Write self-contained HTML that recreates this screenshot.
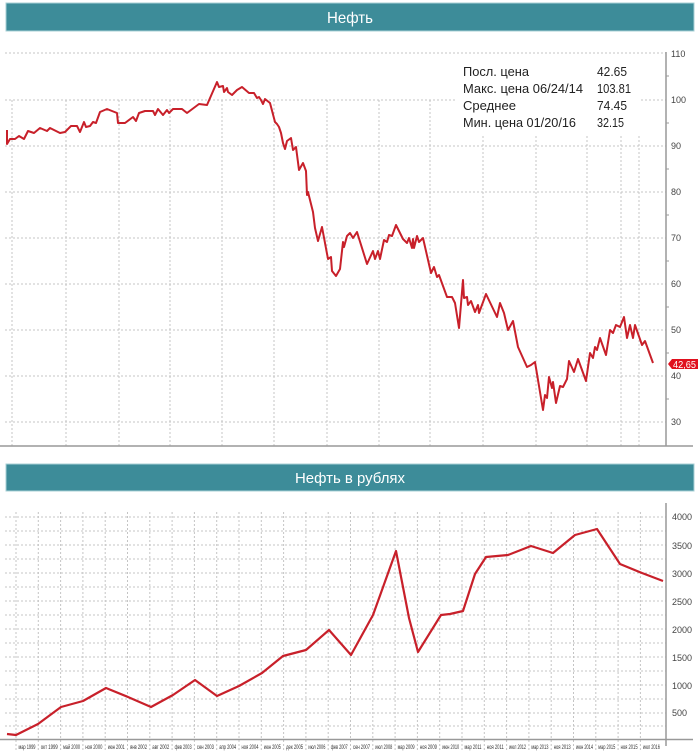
<!DOCTYPE html>
<html><head><meta charset="utf-8"><style>
html,body{margin:0;padding:0;background:#fff;}
svg{display:block;font-family:"Liberation Sans",sans-serif;}
</style></head><body>
<svg width="700" height="753" viewBox="0 0 700 753" xmlns="http://www.w3.org/2000/svg">
<rect x="6" y="3" width="688" height="28" fill="#3d8c99" stroke="#a9d0d6" stroke-width="1"/>
<text x="350" y="23" fill="#fff" font-size="16" text-anchor="middle" textLength="46" lengthAdjust="spacingAndGlyphs">Нефть</text>

<g stroke="#c4c4c4" stroke-width="1" stroke-dasharray="2,2" fill="none">
<line x1="5" y1="53" x2="666" y2="53"/>
<line x1="5" y1="100" x2="666" y2="100"/>
<line x1="5" y1="146" x2="666" y2="146"/>
<line x1="5" y1="192" x2="666" y2="192"/>
<line x1="5" y1="238" x2="666" y2="238"/>
<line x1="5" y1="284" x2="666" y2="284"/>
<line x1="5" y1="330" x2="666" y2="330"/>
<line x1="5" y1="376" x2="666" y2="376"/>
<line x1="5" y1="422" x2="666" y2="422"/>
<line x1="12" y1="100" x2="12" y2="446"/><line x1="66" y1="100" x2="66" y2="446"/>
<line x1="119" y1="100" x2="119" y2="446"/><line x1="170" y1="100" x2="170" y2="446"/>
<line x1="222" y1="100" x2="222" y2="446"/><line x1="274" y1="100" x2="274" y2="446"/>
<line x1="327" y1="100" x2="327" y2="446"/><line x1="379" y1="100" x2="379" y2="446"/>
<line x1="430" y1="100" x2="430" y2="446"/><line x1="483" y1="100" x2="483" y2="446"/>
<line x1="536" y1="100" x2="536" y2="446"/><line x1="587" y1="100" x2="587" y2="446"/>
<line x1="621" y1="100" x2="621" y2="446"/><line x1="639" y1="100" x2="639" y2="446"/>
</g>
<rect x="455" y="58" width="185" height="78" fill="#fff"/>
<line x1="666" y1="52" x2="666" y2="446" stroke="#999" stroke-width="1.5"/>
<line x1="0" y1="446" x2="693" y2="446" stroke="#999" stroke-width="1.5"/>
<g font-size="9" fill="#444">
<text x="671" y="57">110</text><text x="671" y="103">100</text><text x="671" y="149">90</text>
<text x="671" y="195">80</text><text x="671" y="241">70</text><text x="671" y="287">60</text>
<text x="671" y="333">50</text><text x="671" y="379">40</text><text x="671" y="425">30</text>
</g>
<g stroke="#999"><line x1="666" y1="76" x2="669" y2="76"/><line x1="666" y1="123" x2="669" y2="123"/><line x1="666" y1="169" x2="669" y2="169"/><line x1="666" y1="215" x2="669" y2="215"/><line x1="666" y1="261" x2="669" y2="261"/><line x1="666" y1="307" x2="669" y2="307"/><line x1="666" y1="353" x2="669" y2="353"/><line x1="666" y1="399" x2="669" y2="399"/></g>
<g font-size="13" fill="#222" lengthAdjust="spacingAndGlyphs">
<text x="463" y="76" textLength="66" lengthAdjust="spacingAndGlyphs">Посл. цена</text><text x="597" y="76" textLength="30" lengthAdjust="spacingAndGlyphs">42.65</text>
<text x="463" y="93" textLength="120" lengthAdjust="spacingAndGlyphs">Макс. цена 06/24/14</text><text x="597" y="93" textLength="34" lengthAdjust="spacingAndGlyphs">103.81</text>
<text x="463" y="110" textLength="53" lengthAdjust="spacingAndGlyphs">Среднее</text><text x="597" y="110" textLength="30" lengthAdjust="spacingAndGlyphs">74.45</text>
<text x="463" y="127" textLength="113" lengthAdjust="spacingAndGlyphs">Мин. цена 01/20/16</text><text x="597" y="127" textLength="27" lengthAdjust="spacingAndGlyphs">32.15</text>
</g>
<polyline fill="none" stroke="#c8202a" stroke-width="2" stroke-linejoin="round" points="7,130 7,144 10,139 15,139 19,136 24,139 28,131 34,133 40,128 47,131 50,128 60,133 65,132 71,126 77,126 80,132 84,122 86,127 90,126 93,122 96,123 100,112 107,109 117,113 118,123 125,123 133,117 136,121 139,113 145,111 153,111 155,115 158,109 163,115 167,110 169,113 173,109 182,109 187,113 199,104 207,105 217,82 219,87 223,86 224,92 227,88 228,92 232,95 237,90 242,87 249,93 254,93 257,98 259,97 261,100 263,104 265,99 270,103 275,122 277,124 279,127 281,133 283,143 285,149 287,141 291,138 293,150 296,147 299,170 303,163 306,171 307,195 308,192 313,212 315,228 318,241 322,227 328,259 331,257 332,271 336,276 340,269 343,242 344,247 347,236 350,233 353,238 357,232 367,264 373,251 375,259 378,251 380,259 384,240 387,242 389,235 392,236 396,225 403,239 407,243 409,238 412,248 413,239 414,248 417,236 419,242 423,238 431,273 434,267 437,277 439,275 447,297 452,297 455,303 459,328 463,280 464,298 467,297 468,305 471,301 475,312 478,305 479,313 486,294 497,317 500,303 504,313 508,330 513,321 518,347 527,367 531,365 535,362 543,410 545,395 547,398 549,377 552,388 553,382 556,403 560,386 563,387 567,379 569,361 574,372 578,359 586,381 590,353 593,358 595,347 597,350 600,338 606,355 610,330 613,333 616,325 620,327 624,317 627,338 630,325 633,338 635,325 642,345 645,341 653,363"/>
<polygon points="668,364 672,359 698,359 698,369 672,369" fill="#e0101e"/>
<text x="673" y="368" font-size="10" fill="#fff" textLength="23" lengthAdjust="spacingAndGlyphs">42,65</text>

<rect x="6" y="464" width="688" height="27" fill="#3d8c99" stroke="#a9d0d6" stroke-width="1"/>
<text x="350" y="483" fill="#fff" font-size="15" text-anchor="middle" textLength="110" lengthAdjust="spacingAndGlyphs">Нефть в рублях</text>

<g stroke="#c4c4c4" stroke-width="1" stroke-dasharray="2,2" fill="none">
<line x1="5" y1="517" x2="666" y2="517"/><line x1="5" y1="531" x2="666" y2="531"/>
<line x1="5" y1="545" x2="666" y2="545"/><line x1="5" y1="559" x2="666" y2="559"/>
<line x1="5" y1="573" x2="666" y2="573"/><line x1="5" y1="587" x2="666" y2="587"/>
<line x1="5" y1="601" x2="666" y2="601"/><line x1="5" y1="615" x2="666" y2="615"/>
<line x1="5" y1="629" x2="666" y2="629"/><line x1="5" y1="643" x2="666" y2="643"/>
<line x1="5" y1="657" x2="666" y2="657"/><line x1="5" y1="671" x2="666" y2="671"/>
<line x1="5" y1="685" x2="666" y2="685"/><line x1="5" y1="699" x2="666" y2="699"/>
<line x1="5" y1="713" x2="666" y2="713"/><line x1="5" y1="726" x2="666" y2="726"/>
</g>
<g stroke="#c4c4c4" stroke-width="1" stroke-dasharray="2,2">
<line x1="16" y1="512" x2="16" y2="752"/><line x1="38.3" y1="512" x2="38.3" y2="752"/><line x1="60.6" y1="512" x2="60.6" y2="752"/><line x1="82.9" y1="512" x2="82.9" y2="752"/><line x1="105.2" y1="512" x2="105.2" y2="752"/><line x1="127.5" y1="512" x2="127.5" y2="752"/><line x1="149.8" y1="512" x2="149.8" y2="752"/><line x1="172.1" y1="512" x2="172.1" y2="752"/><line x1="194.4" y1="512" x2="194.4" y2="752"/><line x1="216.7" y1="512" x2="216.7" y2="752"/><line x1="239" y1="512" x2="239" y2="752"/><line x1="261.3" y1="512" x2="261.3" y2="752"/><line x1="283.6" y1="512" x2="283.6" y2="752"/><line x1="305.9" y1="512" x2="305.9" y2="752"/><line x1="328.2" y1="512" x2="328.2" y2="752"/><line x1="350.5" y1="512" x2="350.5" y2="752"/><line x1="372.8" y1="512" x2="372.8" y2="752"/><line x1="395.1" y1="512" x2="395.1" y2="752"/><line x1="417.4" y1="512" x2="417.4" y2="752"/><line x1="439.7" y1="512" x2="439.7" y2="752"/><line x1="462" y1="512" x2="462" y2="752"/><line x1="484.3" y1="512" x2="484.3" y2="752"/><line x1="506.6" y1="512" x2="506.6" y2="752"/><line x1="528.9" y1="512" x2="528.9" y2="752"/><line x1="551.2" y1="512" x2="551.2" y2="752"/><line x1="573.5" y1="512" x2="573.5" y2="752"/><line x1="595.8" y1="512" x2="595.8" y2="752"/><line x1="618.1" y1="512" x2="618.1" y2="752"/><line x1="640.4" y1="512" x2="640.4" y2="752"/>
</g>
<line x1="666" y1="503" x2="666" y2="746" stroke="#999" stroke-width="1.5"/>
<line x1="0" y1="739.5" x2="693" y2="739.5" stroke="#999" stroke-width="1.5"/>
<g font-size="9" fill="#444">
<text x="672" y="520">4000</text><text x="672" y="549">3500</text><text x="672" y="577">3000</text>
<text x="672" y="605">2500</text><text x="672" y="633">2000</text><text x="672" y="661">1500</text>
<text x="672" y="689">1000</text><text x="672" y="716">500</text>
</g>
<g font-size="6" fill="#333">
<text x="18.5" y="749" textLength="17" lengthAdjust="spacingAndGlyphs">мар 1999</text><text x="40.8" y="749" textLength="17" lengthAdjust="spacingAndGlyphs">окт 1999</text><text x="63.1" y="749" textLength="17" lengthAdjust="spacingAndGlyphs">май 2000</text><text x="85.4" y="749" textLength="17" lengthAdjust="spacingAndGlyphs">ноя 2000</text><text x="107.7" y="749" textLength="17" lengthAdjust="spacingAndGlyphs">июн 2001</text><text x="130" y="749" textLength="17" lengthAdjust="spacingAndGlyphs">янв 2002</text><text x="152.3" y="749" textLength="17" lengthAdjust="spacingAndGlyphs">авг 2002</text><text x="174.6" y="749" textLength="17" lengthAdjust="spacingAndGlyphs">фев 2003</text><text x="196.9" y="749" textLength="17" lengthAdjust="spacingAndGlyphs">сен 2003</text><text x="219.2" y="749" textLength="17" lengthAdjust="spacingAndGlyphs">апр 2004</text><text x="241.5" y="749" textLength="17" lengthAdjust="spacingAndGlyphs">ноя 2004</text><text x="263.8" y="749" textLength="17" lengthAdjust="spacingAndGlyphs">июн 2005</text><text x="286.1" y="749" textLength="17" lengthAdjust="spacingAndGlyphs">дек 2005</text><text x="308.4" y="749" textLength="17" lengthAdjust="spacingAndGlyphs">июл 2006</text><text x="330.7" y="749" textLength="17" lengthAdjust="spacingAndGlyphs">фев 2007</text><text x="353" y="749" textLength="17" lengthAdjust="spacingAndGlyphs">сен 2007</text><text x="375.3" y="749" textLength="17" lengthAdjust="spacingAndGlyphs">июл 2008</text><text x="397.6" y="749" textLength="17" lengthAdjust="spacingAndGlyphs">мар 2009</text><text x="419.9" y="749" textLength="17" lengthAdjust="spacingAndGlyphs">ноя 2009</text><text x="442.2" y="749" textLength="17" lengthAdjust="spacingAndGlyphs">июн 2010</text><text x="464.5" y="749" textLength="17" lengthAdjust="spacingAndGlyphs">мар 2011</text><text x="486.8" y="749" textLength="17" lengthAdjust="spacingAndGlyphs">ноя 2011</text><text x="509.1" y="749" textLength="17" lengthAdjust="spacingAndGlyphs">июл 2012</text><text x="531.4" y="749" textLength="17" lengthAdjust="spacingAndGlyphs">мар 2013</text><text x="553.7" y="749" textLength="17" lengthAdjust="spacingAndGlyphs">ноя 2013</text><text x="576" y="749" textLength="17" lengthAdjust="spacingAndGlyphs">июн 2014</text><text x="598.3" y="749" textLength="17" lengthAdjust="spacingAndGlyphs">мар 2015</text><text x="620.6" y="749" textLength="17" lengthAdjust="spacingAndGlyphs">ноя 2015</text><text x="642.9" y="749" textLength="17" lengthAdjust="spacingAndGlyphs">июл 2016</text>
</g>
<polyline fill="none" stroke="#c8202a" stroke-width="2.2" stroke-linejoin="round" points="7,734 16,735 38,724 61,707 83,701 106,688 128,697 151,707 173,695 195,680 217,696 239,686 262,673 283,656 306,650 329,630 351,655 373,615 396,551 409,618 418,652 441,615 450,614 463,611 475,574 486,557 508,555 531,546 553,553 575,535 597,529 620,564 642,573 663,581"/>
</svg>
</body></html>
